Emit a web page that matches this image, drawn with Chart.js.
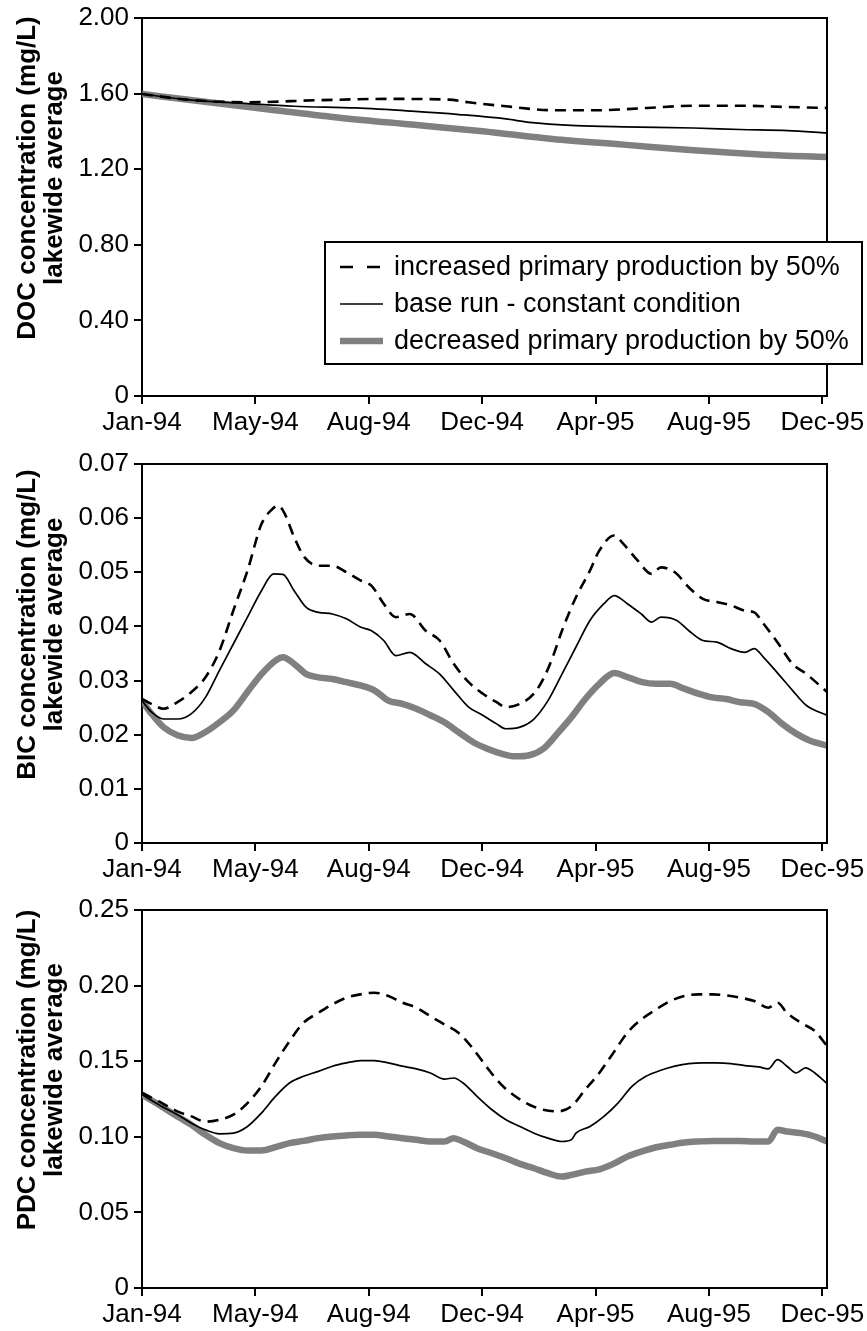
<!DOCTYPE html>
<html>
<head>
<meta charset="utf-8">
<script src="https://cdn.jsdelivr.net/npm/chart.js@4.4.0/dist/chart.umd.min.js"></script>
<style>
html,body{margin:0;padding:0;background:#fff;}
body{width:867px;height:1331px;position:relative;overflow:hidden;}
.panel{position:absolute;left:0;width:867px;}
canvas{display:block;}
</style>
</head>
<body>
<div class="panel" style="top:0;height:445px"><canvas id="c1" width="867" height="445"></canvas></div>
<div class="panel" style="top:445px;height:445px"><canvas id="c2" width="867" height="445"></canvas></div>
<div class="panel" style="top:890px;height:441px"><canvas id="c3" width="867" height="441"></canvas></div>
<script>
// ---- shared axis data ----
const seriesLabels = ['increased primary production by 50%', 'base run - constant condition', 'decreased primary production by 50%'];
const xTickLabels = ['Jan-94', 'May-94', 'Aug-94', 'Dec-94', 'Apr-95', 'Aug-95', 'Dec-95'];
const xTickDays = [0, 121.5, 243, 364.5, 486, 607.5, 729];
const xMaxDay = 734;

// ---- DOC panel ----
const docTitle = ['DOC concentration (mg/L)', 'lakewide average'];
const docTicks = [0, 0.4, 0.8, 1.2, 1.6, 2.0];
const docTickLabels = ['0', '0.40', '0.80', '1.20', '1.60', '2.00'];
const docIncDays = [0, 48, 113, 189, 264, 329, 350, 390, 440, 490, 541, 591, 641, 692, 734];
const docIncVals = [1.598, 1.568, 1.554, 1.565, 1.572, 1.568, 1.554, 1.533, 1.512, 1.512, 1.524, 1.536, 1.536, 1.529, 1.524];
const docBaseDays = [0, 48, 113, 163, 229, 289, 340, 390, 415, 465, 516, 591, 641, 692, 734];
const docBaseVals = [1.598, 1.568, 1.547, 1.533, 1.524, 1.507, 1.489, 1.466, 1.448, 1.431, 1.424, 1.418, 1.41, 1.404, 1.392];
const docDecDays = [0, 63, 138, 214, 289, 365, 440, 516, 591, 666, 734];
const docDecVals = [1.598, 1.559, 1.515, 1.471, 1.436, 1.401, 1.36, 1.33, 1.3, 1.277, 1.265];

// ---- BIC panel ----
const bicTitle = ['BIC concentration (mg/L)', 'lakewide average'];
const bicTicks = [0, 0.01, 0.02, 0.03, 0.04, 0.05, 0.06, 0.07];
const bicTickLabels = ['0', '0.01', '0.02', '0.03', '0.04', '0.05', '0.06', '0.07'];
const bicIncDays = [0,10,23,38,53,68,83,98,113,128,138,146,153,163,174,189,204,219,234,246,259,272,287,304,319,334,350,365,380,390,405,420,430,440,450,465,480,490,506,516,531,546,556,571,586,601,616,631,646,656,666,682,697,712,734];
const bicIncVals = [0.0266,0.0257,0.0248,0.026,0.0279,0.0306,0.0355,0.043,0.0503,0.0589,0.0614,0.0623,0.0608,0.0565,0.0528,0.0512,0.0512,0.050,0.0485,0.0475,0.0442,0.0417,0.0423,0.0392,0.0374,0.0331,0.0297,0.0276,0.026,0.0251,0.0257,0.0276,0.0303,0.0343,0.0392,0.0454,0.0503,0.054,0.0568,0.0552,0.0522,0.0497,0.0509,0.050,0.0472,0.0451,0.0445,0.0439,0.0429,0.0426,0.0405,0.0368,0.0331,0.0312,0.0279];
const bicBaseDays = [0,10,23,38,53,68,83,98,113,128,141,151,163,176,189,204,219,234,246,259,272,287,304,319,334,350,365,380,390,405,420,435,450,465,480,495,506,520,535,546,556,573,586,601,616,631,646,656,666,682,697,712,734];
const bicBaseVals = [0.0263,0.0242,0.0229,0.0229,0.0239,0.0269,0.0319,0.0368,0.0417,0.0466,0.0497,0.0496,0.0466,0.0435,0.0426,0.0423,0.0414,0.0399,0.0392,0.0374,0.0346,0.0352,0.0331,0.0312,0.0282,0.0251,0.0236,0.022,0.0211,0.0214,0.0229,0.0263,0.0312,0.0362,0.0411,0.0442,0.0457,0.0442,0.0423,0.0408,0.0417,0.0411,0.0392,0.0374,0.0371,0.0359,0.0352,0.0359,0.0343,0.0312,0.0282,0.0254,0.0236];
const bicDecDays = [0,10,23,38,53,68,83,98,113,128,143,151,163,176,189,204,219,234,249,264,279,294,309,324,339,355,370,385,400,415,430,445,460,475,490,506,521,536,551,566,581,596,611,626,641,656,671,686,701,716,734];
const bicDecVals = [0.0263,0.0239,0.0214,0.0199,0.0194,0.0205,0.0223,0.0245,0.0279,0.0312,0.0337,0.0343,0.0331,0.0312,0.0306,0.0303,0.0297,0.0291,0.0282,0.0263,0.0257,0.0248,0.0236,0.0223,0.0205,0.0186,0.0174,0.0165,0.016,0.0162,0.0174,0.0202,0.0232,0.0266,0.0294,0.0314,0.0306,0.0297,0.0294,0.0294,0.0285,0.0276,0.0269,0.0266,0.026,0.0257,0.0242,0.022,0.0202,0.0189,0.018];

// ---- PDC panel ----
const pdcTitle = ['PDC concentration (mg/L)', 'lakewide average'];
const pdcTicks = [0, 0.05, 0.10, 0.15, 0.20, 0.25];
const pdcTickLabels = ['0', '0.05', '0.10', '0.15', '0.20', '0.25'];
const pdcIncDays = [0,18,38,53,68,83,98,113,128,143,158,173,189,204,219,234,249,264,279,294,309,324,339,354,370,385,400,415,430,445,460,475,490,505,520,535,551,566,581,596,611,626,641,656,671,681,691,706,721,734];
const pdcIncVals = [0.129,0.1234,0.1168,0.1135,0.110,0.1113,0.1146,0.1223,0.1334,0.1489,0.1632,0.1754,0.182,0.1876,0.192,0.1942,0.1953,0.1931,0.1887,0.1854,0.1798,0.1743,0.1688,0.1588,0.1456,0.1345,0.1268,0.1212,0.1179,0.1168,0.1201,0.1312,0.1422,0.1555,0.1688,0.1776,0.1843,0.1898,0.1931,0.1942,0.1942,0.1935,0.192,0.1898,0.1854,0.1887,0.182,0.1754,0.1699,0.16];
const pdcBaseDays = [0,18,38,53,68,83,98,113,128,143,158,173,189,204,219,234,249,264,279,294,309,324,334,344,359,375,390,405,420,435,450,460,465,480,495,510,525,540,556,571,586,601,616,631,646,661,671,681,691,701,711,721,734];
const pdcBaseVals = [0.1279,0.1212,0.1146,0.109,0.1046,0.102,0.1024,0.1068,0.1157,0.1267,0.1356,0.14,0.1433,0.1467,0.1489,0.1504,0.1504,0.1489,0.1467,0.1449,0.1422,0.1382,0.1389,0.1356,0.1268,0.1179,0.1113,0.1068,0.1024,0.0991,0.0969,0.098,0.1024,0.1068,0.1135,0.1223,0.1334,0.14,0.144,0.1467,0.1484,0.1489,0.1489,0.1484,0.1471,0.1462,0.1449,0.1511,0.1467,0.1422,0.1456,0.1422,0.1352];
const pdcDecDays = [0,18,38,53,68,83,98,113,128,143,158,173,189,204,219,234,249,264,279,294,309,324,334,344,359,375,390,405,420,435,450,460,475,490,505,520,535,551,566,581,596,611,626,641,656,671,681,691,706,721,734];
const pdcDecVals = [0.1279,0.1212,0.1135,0.1079,0.1013,0.0958,0.0925,0.0909,0.0909,0.0931,0.0958,0.0973,0.0991,0.1002,0.1009,0.1013,0.1013,0.1002,0.0991,0.098,0.0969,0.0969,0.0991,0.0969,0.0925,0.0891,0.0858,0.0821,0.0792,0.0759,0.0737,0.0748,0.077,0.0785,0.0821,0.0869,0.0902,0.0931,0.0947,0.0962,0.0969,0.0973,0.0973,0.0973,0.0969,0.0969,0.1046,0.1035,0.1024,0.1002,0.0969];

// ---- rendering ----
const FONT = "'Liberation Sans', Arial, Helvetica, sans-serif";
Chart.defaults.font.family = FONT;
Chart.defaults.color = '#000';

function pts(days, vals) { return days.map((d, i) => ({x: d, y: vals[i]})); }

const framePlugin = {
  id: 'frame',
  afterDatasetsDraw(chart) {
    const {ctx, chartArea: a} = chart;
    ctx.save();
    ctx.strokeStyle = '#000';
    ctx.lineWidth = 2;
    ctx.beginPath();
    ctx.moveTo(a.left - 1, a.top);
    ctx.lineTo(a.right, a.top);
    ctx.lineTo(a.right, a.bottom + 1);
    ctx.stroke();
    ctx.restore();
  }
};

const yTitlePlugin = {
  id: 'yTitle',
  afterDraw(chart, args, opts) {
    const {ctx, chartArea: a} = chart;
    const cy = (a.top + a.bottom) / 2 - 29;
    ctx.save();
    ctx.font = 'bold 26px ' + FONT;
    ctx.fillStyle = '#000';
    ctx.textAlign = 'center';
    ctx.textBaseline = 'middle';
    (opts.lines || []).forEach((t, i) => {
      ctx.save();
      ctx.translate(28 + i * 27, cy);
      ctx.rotate(-Math.PI / 2);
      ctx.fillText(t, 0, 0);
      ctx.restore();
    });
    ctx.restore();
  }
};

const boxLegendPlugin = {
  id: 'boxLegend',
  afterDraw(chart, args, opts) {
    if (!opts.show) return;
    const {ctx} = chart;
    const bx = 325, by = 242, bw = 537, bh = 122;
    ctx.save();
    ctx.fillStyle = '#fff';
    ctx.fillRect(bx, by, bw, bh);
    ctx.strokeStyle = '#000';
    ctx.lineWidth = 2;
    ctx.strokeRect(bx, by, bw, bh);
    chart.data.datasets.forEach((ds, i) => {
      const y = 267 + i * 37;
      ctx.beginPath();
      ctx.strokeStyle = ds.borderColor;
      ctx.lineWidth = ds.borderWidth;
      ctx.setLineDash(ds.borderDash && ds.borderDash.length ? [13, 14] : []);
      ctx.moveTo(340, y);
      ctx.lineTo(383, y);
      ctx.stroke();
      ctx.setLineDash([]);
      ctx.fillStyle = '#000';
      ctx.font = '27px ' + FONT;
      ctx.textAlign = 'left';
      ctx.textBaseline = 'middle';
      ctx.fillText(ds.label, 394, y + 1);
    });
    ctx.restore();
  }
};

function makeChart(id, cfg) {
  const datasets = [
    {label: seriesLabels[0], data: pts(cfg.inc[0], cfg.inc[1]), borderColor: '#000', borderWidth: 2.6, borderDash: [11, 7]},
    {label: seriesLabels[1], data: pts(cfg.base[0], cfg.base[1]), borderColor: '#000', borderWidth: 1.7, borderDash: []},
    {label: seriesLabels[2], data: pts(cfg.dec[0], cfg.dec[1]), borderColor: '#808080', borderWidth: 6.5, borderDash: []}
  ];
  return new Chart(document.getElementById(id), {
    type: 'line',
    data: {datasets},
    options: {
      responsive: false,
      animation: false,
      devicePixelRatio: 1,
      layout: {padding: {top: cfg.padTop, right: 40, left: 0, bottom: 0}},
      elements: {
        point: {radius: 0, hoverRadius: 0},
        line: {cubicInterpolationMode: 'monotone', borderCapStyle: 'butt', borderJoinStyle: 'round', fill: false}
      },
      plugins: {
        legend: {display: false},
        tooltip: {enabled: false},
        yTitle: {lines: cfg.title},
        boxLegend: {show: !!cfg.legend}
      },
      scales: {
        x: {
          type: 'linear', min: 0, max: xMaxDay,
          afterBuildTicks: s => { s.ticks = xTickDays.map(v => ({value: v})); },
          afterFit: s => { s.height = cfg.xAxisH; s.paddingLeft = 0; s.paddingRight = 0; },
          ticks: {callback: (v, i) => xTickLabels[i], font: {size: 26}, color: '#000', padding: 3, maxRotation: 0, autoSkip: false},
          grid: {display: true, drawOnChartArea: false, drawTicks: true, tickLength: 8, color: '#000', lineWidth: 2},
          border: {display: true, color: '#000', width: 2}
        },
        y: {
          type: 'linear', min: 0, max: cfg.yTicks[cfg.yTicks.length - 1],
          afterBuildTicks: s => { s.ticks = cfg.yTicks.map(v => ({value: v})); },
          afterFit: s => { s.width = 142; s.paddingTop = 0; s.paddingBottom = 0; },
          ticks: {callback: (v, i) => cfg.yLabels[i], font: {size: 26}, color: '#000', padding: 5},
          grid: {display: true, drawOnChartArea: false, drawTicks: true, tickLength: 8, color: '#000', lineWidth: 2},
          border: {display: true, color: '#000', width: 2}
        }
      }
    },
    plugins: [framePlugin, yTitlePlugin, boxLegendPlugin]
  });
}

makeChart('c1', {padTop: 18, xAxisH: 49, title: docTitle, yTicks: docTicks, yLabels: docTickLabels,
  inc: [docIncDays, docIncVals], base: [docBaseDays, docBaseVals], dec: [docDecDays, docDecVals], legend: true});
makeChart('c2', {padTop: 19, xAxisH: 47, title: bicTitle, yTicks: bicTicks, yLabels: bicTickLabels,
  inc: [bicIncDays, bicIncVals], base: [bicBaseDays, bicBaseVals], dec: [bicDecDays, bicDecVals]});
makeChart('c3', {padTop: 20, xAxisH: 43, title: pdcTitle, yTicks: pdcTicks, yLabels: pdcTickLabels,
  inc: [pdcIncDays, pdcIncVals], base: [pdcBaseDays, pdcBaseVals], dec: [pdcDecDays, pdcDecVals]});
</script>
</body>
</html>
